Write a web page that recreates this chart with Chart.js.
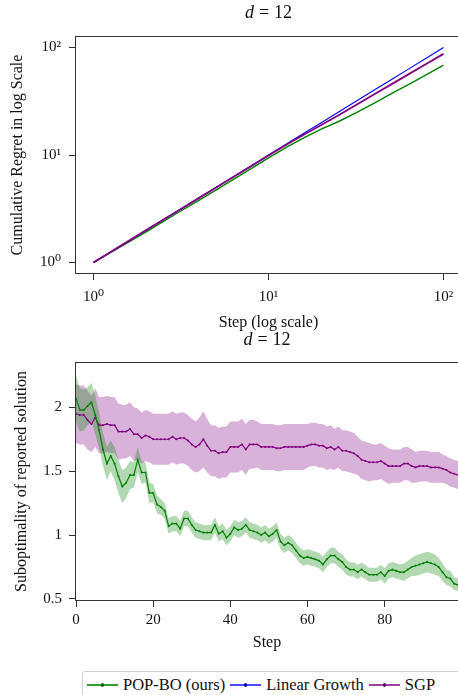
<!DOCTYPE html>
<html>
<head>
<meta charset="utf-8">
<script src="https://cdn.jsdelivr.net/npm/chart.js@4.4.0/dist/chart.umd.min.js"></script>
<style>
  html, body { margin: 0; padding: 0; background: #fff; overflow: hidden; }
  #page { position: relative; width: 458px; height: 695px; overflow: hidden; }
  .box { position: absolute; left: 0; width: 462px; }
  #topBox { top: 0; height: 340px; z-index: 1; }
  #botBox { top: 330px; height: 330px; z-index: 2; }
  #legend {
    position: absolute; left: 82px; top: 671px; width: 400px; height: 28px;
    border: 1px solid #d0d0d0; border-radius: 3px; box-sizing: border-box;
    display: flex; align-items: center; padding-left: 4px;
    font-family: 'Liberation Serif', 'DejaVu Serif', serif; font-size: 16.5px; color: #111;
  }
  .sample { position: relative; width: 31px; height: 1.5px; margin-right: 5px; }
  .sample i { position: absolute; left: 14px; top: -1px; width: 3px; height: 3.5px; border-radius: 50%; }
  .item { margin-right: 5px; white-space: nowrap; }
</style>
</head>
<body>
<div id="page">
  <div id="topBox" class="box"><canvas id="regretChart" width="462" height="340"></canvas></div>
  <div id="botBox" class="box"><canvas id="suboptChart" width="462" height="330"></canvas></div>
  <div id="legend">
    <span class="sample" style="background:#2e9e2e"><i style="background:#006000"></i></span><span class="item">POP-BO (ours)</span>
    <span class="sample" style="background:#4a4aff"><i style="background:#0000b0"></i></span><span class="item">Linear Growth</span>
    <span class="sample" style="background:#a040a0"><i style="background:#600060"></i></span><span class="item">SGP</span>
  </div>
</div>
<script>
// ===== data : cumulative regret (top) =====
const regretSteps = [1, 2, 3, 4, 5, 6, 8, 10, 13, 16, 20, 25, 32, 40, 50, 63, 80, 100];
const linearRegret = [1, 2, 3, 4, 5, 6, 8, 10, 13, 16, 20, 25, 32, 40, 50, 63, 80, 100];
const sgpRegret = [1, 2, 2.98, 3.97, 4.96, 5.95, 7.9, 9.9, 12.8, 15.5, 19.0, 23.3, 29.5, 36.6, 45.2, 56.3, 70.7, 87.3];
const popRegret = [1, 1.93, 2.87, 3.78, 4.72, 5.66, 7.5, 9.4, 12.1, 14.5, 17.4, 20.4, 24.9, 30.3, 37.1, 45.1, 56.0, 68.5];
const logTicks = [1, 10, 100];
const logTickLabels = ['10⁰', '10¹', '10²'];

// ===== data : suboptimality (bottom), steps 0..99 =====
const popMean = [
  2.07, 1.98, 1.98, 2.01, 2.04, 1.94, 1.82, 1.67, 1.56, 1.62,
  1.56, 1.46, 1.38, 1.41, 1.47, 1.47, 1.59, 1.49, 1.49, 1.33,
  1.33, 1.24, 1.22, 1.19, 1.07, 1.09, 1.09, 1.05, 1.13, 1.13,
  1.08, 1.04, 1.03, 1.02, 1.02, 1.02, 1.08, 1.01, 1.03, 0.98,
  1.01, 1.06, 1.04, 1.05, 1.08, 1.04, 1.03, 1.02, 1.00, 1.02,
  0.99, 1.01, 1.04, 0.95, 0.92, 0.94, 0.92, 0.88, 0.84, 0.82,
  0.83, 0.82, 0.81, 0.80, 0.77, 0.81, 0.84, 0.84, 0.81, 0.79,
  0.75, 0.73, 0.73, 0.71, 0.73, 0.71, 0.69, 0.69, 0.69, 0.71,
  0.68, 0.72, 0.73, 0.72, 0.71, 0.71, 0.73, 0.75, 0.76, 0.77,
  0.78, 0.79, 0.78, 0.77, 0.75, 0.71, 0.67, 0.66, 0.62, 0.61
];
const popStd = [
  0.18, 0.17, 0.16, 0.15, 0.15, 0.15, 0.14, 0.13, 0.13, 0.12,
  0.13, 0.13, 0.13, 0.12, 0.11, 0.10, 0.10, 0.09, 0.08, 0.08,
  0.07, 0.07, 0.06, 0.06, 0.06, 0.06, 0.06, 0.06, 0.06, 0.06,
  0.06, 0.06, 0.06, 0.06, 0.06, 0.06, 0.06, 0.06, 0.06, 0.06,
  0.06, 0.06, 0.06, 0.06, 0.06, 0.06, 0.06, 0.06, 0.06, 0.06,
  0.06, 0.06, 0.06, 0.06, 0.06, 0.06, 0.06, 0.06, 0.06, 0.06,
  0.06, 0.06, 0.06, 0.06, 0.06, 0.06, 0.06, 0.06, 0.06, 0.06,
  0.06, 0.055, 0.055, 0.055, 0.055, 0.055, 0.055, 0.055, 0.055, 0.055,
  0.06, 0.06, 0.06, 0.06, 0.06, 0.07, 0.07, 0.07, 0.08, 0.08,
  0.08, 0.08, 0.08, 0.08, 0.07, 0.07, 0.06, 0.06, 0.05, 0.05
];
const sgpMean = [
  1.95, 1.94, 1.94, 1.90, 1.87, 1.92, 1.86, 1.86, 1.87, 1.86,
  1.86, 1.81, 1.81, 1.81, 1.83, 1.79, 1.79, 1.76, 1.78, 1.77,
  1.75, 1.75, 1.75, 1.75, 1.75, 1.77, 1.75, 1.76, 1.76, 1.74,
  1.71, 1.69, 1.71, 1.75, 1.70, 1.66, 1.66, 1.64, 1.65, 1.65,
  1.69, 1.69, 1.69, 1.71, 1.67, 1.71, 1.71, 1.71, 1.69, 1.69,
  1.69, 1.69, 1.68, 1.68, 1.69, 1.69, 1.69, 1.69, 1.69, 1.69,
  1.70, 1.71, 1.71, 1.70, 1.70, 1.68, 1.69, 1.67, 1.69, 1.66,
  1.66, 1.65, 1.64, 1.62, 1.59, 1.58, 1.57, 1.57, 1.57, 1.58,
  1.56, 1.54, 1.54, 1.54, 1.54, 1.56, 1.56, 1.54, 1.53, 1.54,
  1.54, 1.54, 1.53, 1.53, 1.53, 1.52, 1.51, 1.49, 1.48, 1.47
];
const sgpStd = [
  0.23, 0.23, 0.23, 0.23, 0.22, 0.23, 0.22, 0.22, 0.22, 0.22,
  0.22, 0.22, 0.21, 0.21, 0.21, 0.21, 0.20, 0.20, 0.20, 0.20,
  0.20, 0.20, 0.20, 0.20, 0.20, 0.20, 0.20, 0.20, 0.20, 0.20,
  0.20, 0.20, 0.21, 0.22, 0.21, 0.20, 0.20, 0.20, 0.20, 0.20,
  0.20, 0.20, 0.20, 0.20, 0.20, 0.19, 0.19, 0.18, 0.18, 0.18,
  0.18, 0.18, 0.18, 0.18, 0.18, 0.18, 0.18, 0.18, 0.18, 0.18,
  0.17, 0.17, 0.17, 0.17, 0.17, 0.17, 0.17, 0.16, 0.16, 0.16,
  0.16, 0.16, 0.16, 0.15, 0.15, 0.15, 0.15, 0.14, 0.14, 0.14,
  0.14, 0.14, 0.13, 0.13, 0.13, 0.13, 0.13, 0.13, 0.12, 0.12,
  0.12, 0.12, 0.12, 0.12, 0.12, 0.11, 0.11, 0.11, 0.11, 0.11
];
const stepTicks = [0, 20, 40, 60, 80];
const subTicks = [0.5, 1, 1.5, 2];

const SERIF = "'Liberation Serif', 'DejaVu Serif', serif";
const GREEN = '#008000', BLUE = '#0000ff', PURPLE = '#800080';

// frame on all four sides, like matplotlib spines
const framePlugin = {
  id: 'frame',
  afterDraw(chart) {
    const { ctx, chartArea: a } = chart;
    ctx.save();
    ctx.strokeStyle = '#333';
    ctx.lineWidth = 1;
    ctx.strokeRect(Math.round(a.left) - 0.5, Math.round(a.top) - 0.5,
      Math.round(a.right - a.left) + 1, Math.round(a.bottom - a.top) + 1);
    ctx.restore();
  }
};

// title "d = 12" with italic d
const mathTitle = {
  id: 'mathTitle',
  afterDraw(chart, args, opts) {
    const { ctx, chartArea: a } = chart;
    const parts = [
      { t: 'd', f: `italic 18px ${SERIF}`, gap: 5 },
      { t: '=', f: `18px ${SERIF}`, gap: 5 },
      { t: '12', f: `18px ${SERIF}`, gap: 0 }
    ];
    ctx.save();
    let total = 0;
    parts.forEach(p => { ctx.font = p.f; p.w = ctx.measureText(p.t).width; total += p.w + p.gap; });
    let x = (a.left + a.right) / 2 - total / 2;
    ctx.fillStyle = '#111';
    ctx.textBaseline = 'middle';
    parts.forEach(p => { ctx.font = p.f; ctx.fillText(p.t, x, opts.y); x += p.w + p.gap; });
    ctx.restore();
  }
};

const tickGrid = { display: true, drawOnChartArea: false, drawTicks: true, tickLength: 7, color: '#333', lineWidth: 1 };

function pts(xs, ys) {
  return xs.map((x, i) => ({ x: x, y: ys[i] }));
}

// ----- top: cumulative regret, log-log -----
new Chart(document.getElementById('regretChart'), {
  type: 'line',
  data: {
    datasets: [
      { label: 'SGP', data: pts(regretSteps, sgpRegret), borderColor: PURPLE, borderWidth: 1.8, pointRadius: 0 },
      { label: 'Linear Growth', data: pts(regretSteps, linearRegret), borderColor: BLUE, borderWidth: 1.1, pointRadius: 0 },
      { label: 'POP-BO (ours)', data: pts(regretSteps, popRegret), borderColor: GREEN, borderWidth: 1.4, pointRadius: 0 }
    ]
  },
  plugins: [framePlugin, mathTitle],
  options: {
    responsive: false,
    animation: false,
    layout: { padding: { top: 37, right: 1, left: 0, bottom: 0 } },
    plugins: { legend: { display: false }, tooltip: { enabled: false }, mathTitle: { y: 13 } },
    scales: {
      x: {
        type: 'logarithmic', min: 0.794, max: 125.9,
        afterBuildTicks: axis => { axis.ticks = logTicks.map(v => ({ value: v })); },
        afterFit: axis => { axis.height = 67; },
        grid: tickGrid, border: { display: false },
        ticks: { autoSkip: false, maxRotation: 0, padding: 8, color: '#111',
          font: { family: SERIF, size: 15 },
          callback: v => logTickLabels[logTicks.indexOf(v)] },
        title: { display: true, text: 'Step (log scale)', color: '#111',
          font: { family: SERIF, size: 16 }, padding: { top: 0, bottom: 8 } }
      },
      y: {
        type: 'logarithmic', min: 0.798, max: 125.4,
        afterBuildTicks: axis => { axis.ticks = logTicks.map(v => ({ value: v })); },
        afterFit: axis => { axis.width = 76; },
        grid: tickGrid, border: { display: false },
        ticks: { autoSkip: false, padding: 8, color: '#111',
          font: { family: SERIF, size: 15 },
          callback: v => logTickLabels[logTicks.indexOf(v)] },
        title: { display: true, text: 'Cumulative Regret in log Scale', color: '#111',
          font: { family: SERIF, size: 16 }, padding: { top: 8, bottom: 0 } }
      }
    }
  }
});

// ----- bottom: suboptimality with shaded bands -----
const steps = popMean.map((v, i) => i);
const band = (mean, sd, sign) => mean.map((m, i) => m + sign * sd[i]);

new Chart(document.getElementById('suboptChart'), {
  type: 'line',
  data: {
    datasets: [
      { label: 'POP-BO (ours)', data: pts(steps, popMean), borderColor: GREEN, borderWidth: 1.2,
        pointRadius: 1, pointBackgroundColor: GREEN, pointBorderWidth: 0, fill: false },
      { label: 'SGP', data: pts(steps, sgpMean), borderColor: PURPLE, borderWidth: 1.2,
        pointRadius: 1, pointBackgroundColor: PURPLE, pointBorderWidth: 0, fill: false },
      { data: pts(steps, band(popMean, popStd, 1)), borderWidth: 0, pointRadius: 0,
        backgroundColor: 'rgba(0,128,0,0.3)', fill: '+1' },
      { data: pts(steps, band(popMean, popStd, -1)), borderWidth: 0, pointRadius: 0, fill: false },
      { data: pts(steps, band(sgpMean, sgpStd, 1)), borderWidth: 0, pointRadius: 0,
        backgroundColor: 'rgba(128,0,128,0.3)', fill: '+1' },
      { data: pts(steps, band(sgpMean, sgpStd, -1)), borderWidth: 0, pointRadius: 0, fill: false }
    ]
  },
  plugins: [framePlugin, mathTitle],
  options: {
    responsive: false,
    animation: false,
    layout: { padding: { top: 33, right: 1, left: 0, bottom: 0 } },
    plugins: { legend: { display: false }, tooltip: { enabled: false }, mathTitle: { y: 10 } },
    scales: {
      x: {
        type: 'linear', min: 0, max: 99,
        afterBuildTicks: axis => { axis.ticks = stepTicks.map(v => ({ value: v })); },
        afterFit: axis => { axis.height = 60; },
        grid: tickGrid, border: { display: false },
        ticks: { autoSkip: false, maxRotation: 0, padding: 4, color: '#111',
          font: { family: SERIF, size: 15 } },
        title: { display: true, text: 'Step', color: '#111',
          font: { family: SERIF, size: 16 }, padding: { top: 0, bottom: 8 } }
      },
      y: {
        type: 'linear', min: 0.492, max: 2.347,
        afterBuildTicks: axis => { axis.ticks = subTicks.map(v => ({ value: v })); },
        afterFit: axis => { axis.width = 76; },
        grid: tickGrid, border: { display: false },
        ticks: { autoSkip: false, padding: 7, color: '#111',
          font: { family: SERIF, size: 15 }, callback: v => String(v) },
        title: { display: true, text: 'Suboptimality of reported solution', color: '#111',
          font: { family: SERIF, size: 16 }, padding: { top: 12, bottom: 0 } }
      }
    }
  }
});
</script>
</body>
</html>
